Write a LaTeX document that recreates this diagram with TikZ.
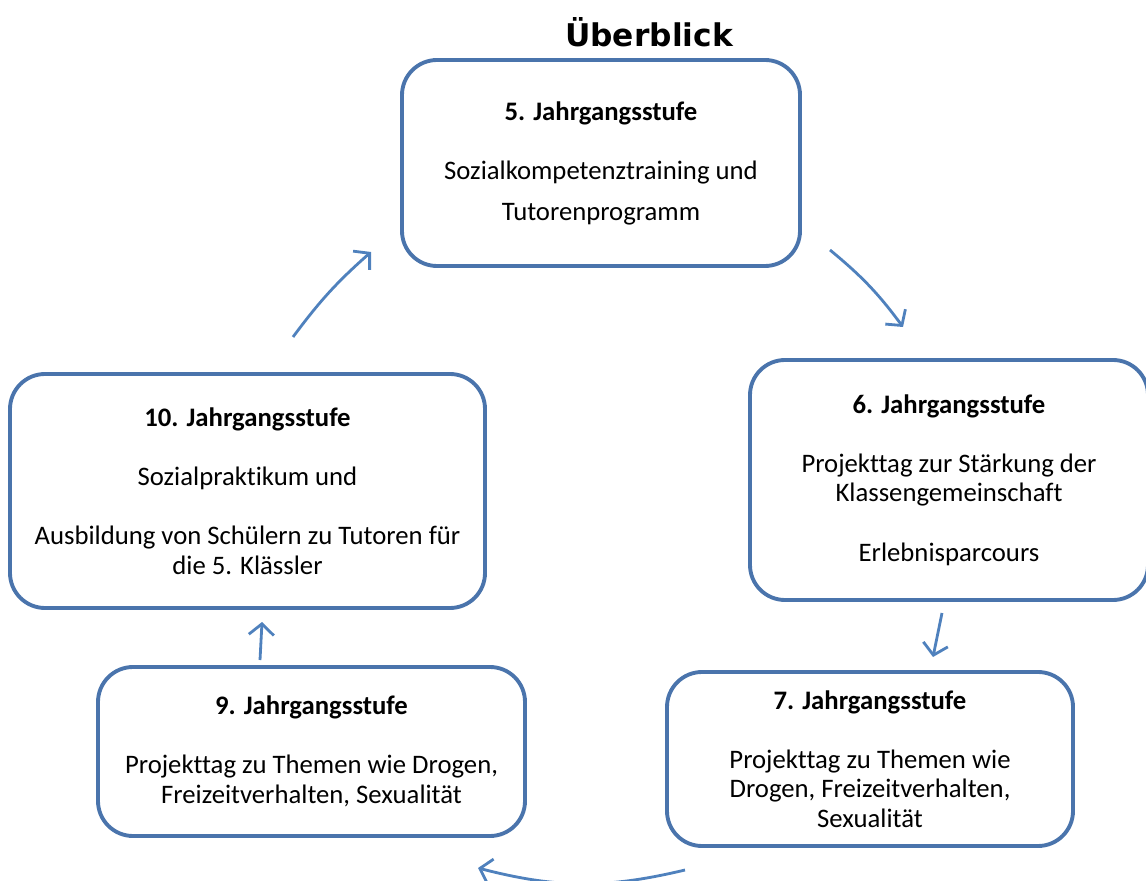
\documentclass[tikz,border=0pt]{standalone}
\usepackage{fontspec}
\setmainfont{Carlito}[Ligatures={NoCommon}]
\newfontfamily\titlefont{DejaVu Sans}
\usetikzlibrary{arrows.meta}
\definecolor{boxblue}{HTML}{4A74AC}
\definecolor{arrowblue}{HTML}{4F81BD}

\begin{document}
\begin{tikzpicture}[
        stufe/.style={draw=boxblue, line width=2.2pt, rounded corners=0.7cm, align=center,
            inner sep=0pt, font=\fontsize{15.2}{16.8}\selectfont},
        pfeil/.style={draw=arrowblue, line width=1.6pt, -{Straight Barb[length=0.22cm,width=0.5cm]}}
    ]
            \useasboundingbox (0, 0) rectangle (22.92, -17.62);

            \node[font=\titlefont\bfseries\fontsize{17.8}{20}\selectfont] (titel) at (12.98, -0.64) {Überblick};

            \node[stufe, minimum width=7.96cm, minimum height=4.12cm] (s5) at (12.02, -3.26)
                {\textbf{5. Jahrgangsstufe}\\[16.8pt] Sozialkompetenztraining und\\[6.5pt] Tutorenprogramm};
            \node[stufe, minimum width=7.96cm, minimum height=4.8cm] (s6) at (18.98, -9.6)
                {\textbf{6. Jahrgangsstufe}\\[16.8pt] Projekttag zur Stärkung der\\ Klassengemeinschaft\\[16.8pt] Erlebnisparcours};
            \node[stufe, minimum width=8.12cm, minimum height=3.48cm] (s7) at (17.4, -15.18)
                {\textbf{7. Jahrgangsstufe}\\[16.8pt] Projekttag zu Themen wie\\ Drogen, Freizeitverhalten,\\ Sexualität};
            \node[stufe, minimum width=8.54cm, minimum height=3.38cm] (s9) at (6.23, -15.03)
                {\textbf{9. Jahrgangsstufe}\\[16.8pt] Projekttag zu Themen wie Drogen,\\ Freizeitverhalten, Sexualität};
            \node[stufe, minimum width=9.5cm, minimum height=4.68cm] (s10) at (4.95, -9.82)
                {\textbf{10. Jahrgangsstufe}\\[16.8pt] Sozialpraktikum und\\[16.8pt] Ausbildung von Schülern zu Tutoren für\\ die 5. Klässler};

            % Pfeile zwischen den Stufen
            \coordinate (p10a) at (5.86, -6.74);
            \coordinate (p10b) at (7.42, -5.04);
            \coordinate (p5a) at (16.6, -5.0);
            \coordinate (p5b) at (18.06, -6.54);
            \coordinate (p6a) at (18.84, -12.26);
            \coordinate (p6b) at (18.66, -13.14);
            \coordinate (p7a) at (13.7, -17.4);
            \coordinate (p7b) at (9.56, -17.36);
            \coordinate (p9a) at (5.2, -13.2);
            \coordinate (p9b) at (5.24, -12.44);

            \draw[pfeil] (p10a) to[bend left=6] (p10b);
            \draw[pfeil] (p5a) to[bend left=7] (p5b);
            \draw[pfeil] (p6a) -- (p6b);
            \draw[pfeil] (p7a) to[bend left=14] (p7b);
            \draw[pfeil] (p9a) -- (p9b);
        \end{tikzpicture}
\end{document}
